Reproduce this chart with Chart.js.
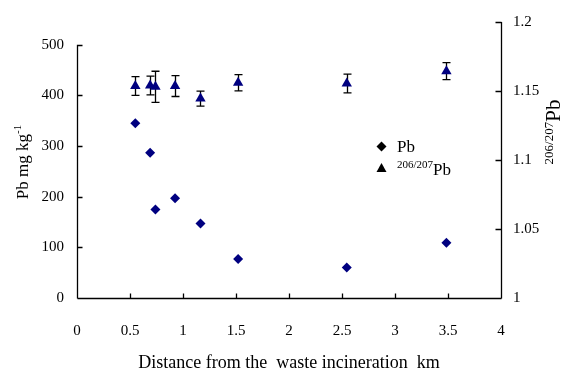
<!DOCTYPE html>
<html>
<head>
<meta charset="utf-8">
<script src="https://cdn.jsdelivr.net/npm/chart.js@4"></script>
<style>
  html, body { margin: 0; padding: 0; background: #fff; }
  #wrap { width: 564px; height: 374px; }
</style>
</head>
<body>
<div id="wrap"><canvas id="canvas"></canvas></div>
<script>
// distance from the waste incineration (km)
var distances = [0.55, 0.69, 0.74, 0.925, 1.165, 1.52, 2.545, 3.485];
// Pb content, mg/kg (left axis)
var pbValues = [345, 287, 175, 197, 147, 77, 60, 109];
// 206/207Pb ratio (right axis) and its error
var ratioValues = [1.1536, 1.1540, 1.1530, 1.1536, 1.1445, 1.1560, 1.1555, 1.1644];
var ratioErrors = [0.0068, 0.0068, 0.0113, 0.0076, 0.0054, 0.0059, 0.0068, 0.0062];
var xTicks = [0, 0.5, 1, 1.5, 2, 2.5, 3, 3.5, 4];
var leftTicks = [0, 100, 200, 300, 400, 500];
var rightTicks = [1, 1.05, 1.1, 1.15, 1.2];

var navy = '#000080';
var serif = '"Liberation Serif", "Times New Roman", serif';

function pairs(xs, ys) {
  var out = [];
  for (var i = 0; i < xs.length; i++) out.push({x: xs[i], y: ys[i]});
  return out;
}

function plainLabel(v) {
  return String(Math.round(v * 100) / 100);
}

// error bars, inward ticks, titles and legend
var decorations = {
  id: 'decorations',
  beforeDatasetsDraw: function(chart) {
    var ctx = chart.ctx;
    var xs = chart.scales.x, yr = chart.scales.yRight;
    ctx.save();
    ctx.strokeStyle = '#000';
    ctx.lineWidth = 1.3;
    for (var i = 0; i < distances.length; i++) {
      var px = Math.round(xs.getPixelForValue(distances[i])) + 0.5;
      var top = yr.getPixelForValue(ratioValues[i] + ratioErrors[i]);
      var bot = yr.getPixelForValue(ratioValues[i] - ratioErrors[i]);
      ctx.beginPath();
      ctx.moveTo(px, top); ctx.lineTo(px, bot);
      ctx.moveTo(px - 4, top); ctx.lineTo(px + 4, top);
      ctx.moveTo(px - 4, bot); ctx.lineTo(px + 4, bot);
      ctx.stroke();
    }
    ctx.restore();
  },
  afterDraw: function(chart) {
    var ctx = chart.ctx;
    var xs = chart.scales.x, yl = chart.scales.yLeft, yr = chart.scales.yRight;
    var a = chart.chartArea;
    ctx.save();
    ctx.strokeStyle = '#000';
    ctx.lineWidth = 1.3;
    ctx.beginPath();
    // axis lines
    var lx = Math.round(a.left) + 0.5, rx = Math.round(a.right) + 0.5, by = Math.round(a.bottom) + 0.5;
    ctx.moveTo(lx, yl.getPixelForValue(500)); ctx.lineTo(lx, by);
    ctx.moveTo(lx, by); ctx.lineTo(rx, by);
    ctx.moveTo(rx, a.top); ctx.lineTo(rx, by);
    // inward ticks
    xTicks.forEach(function(v) {
      var p = Math.round(xs.getPixelForValue(v)) + 0.5;
      ctx.moveTo(p, by); ctx.lineTo(p, by - 5);
    });
    leftTicks.forEach(function(v) {
      var p = Math.round(yl.getPixelForValue(v)) + 0.5;
      ctx.moveTo(lx, p); ctx.lineTo(lx + 5, p);
    });
    rightTicks.forEach(function(v) {
      var p = Math.round(yr.getPixelForValue(v)) + 0.5;
      ctx.moveTo(rx, p); ctx.lineTo(rx - 6, p);
    });
    ctx.stroke();

    ctx.fillStyle = '#000';
    ctx.textBaseline = 'alphabetic';

    // x title
    ctx.font = '18px ' + serif;
    ctx.textAlign = 'center';
    ctx.fillText('Distance from the  waste incineration  km', (a.left + a.right) / 2, 368);

    // left title: Pb mg kg-1
    ctx.save();
    ctx.translate(28, 162);
    ctx.rotate(-Math.PI / 2);
    ctx.textAlign = 'left';
    ctx.font = '17px ' + serif;
    var t1 = 'Pb mg kg';
    var w1 = ctx.measureText(t1).width;
    ctx.font = '11px ' + serif;
    var w2 = ctx.measureText('-1').width;
    var sx = -(w1 + w2) / 2;
    ctx.font = '17px ' + serif;
    ctx.fillText(t1, sx, 0);
    ctx.font = '11px ' + serif;
    ctx.fillText('-1', sx + w1, -7);
    ctx.restore();

    // right title: 206/207Pb
    ctx.save();
    ctx.translate(560, 132);
    ctx.rotate(-Math.PI / 2);
    ctx.textAlign = 'left';
    ctx.font = '13px ' + serif;
    var s1 = ctx.measureText('206/207').width;
    ctx.font = '21px ' + serif;
    var s2 = ctx.measureText('Pb').width;
    var rs = -(s1 + s2) / 2;
    ctx.font = '13px ' + serif;
    ctx.fillText('206/207', rs, -7);
    ctx.font = '21px ' + serif;
    ctx.fillText('Pb', rs + s1, 0);
    ctx.restore();

    // legend
    ctx.fillStyle = '#000';
    ctx.beginPath();
    ctx.moveTo(381.5, 141.5); ctx.lineTo(386.5, 146.5); ctx.lineTo(381.5, 151.5); ctx.lineTo(376.5, 146.5);
    ctx.closePath(); ctx.fill();
    ctx.beginPath();
    ctx.moveTo(381.5, 163); ctx.lineTo(386.5, 172); ctx.lineTo(376.5, 172);
    ctx.closePath(); ctx.fill();
    ctx.textAlign = 'left';
    ctx.font = '17px ' + serif;
    ctx.fillText('Pb', 397, 152);
    ctx.font = '11px ' + serif;
    ctx.fillText('206/207', 397, 168);
    var lw = ctx.measureText('206/207').width;
    ctx.font = '17px ' + serif;
    ctx.fillText('Pb', 397 + lw, 175);
    ctx.restore();
  }
};

new Chart(document.getElementById('canvas').getContext('2d'), {
  type: 'scatter',
  data: {
    datasets: [{
      label: 'Pb',
      data: pairs(distances, pbValues),
      yAxisID: 'yLeft',
      pointStyle: 'rectRot',
      pointRadius: 5,
      backgroundColor: navy,
      borderColor: navy,
      borderWidth: 0
    }, {
      label: '206/207Pb',
      data: pairs(distances, ratioValues),
      yAxisID: 'yRight',
      pointStyle: 'triangle',
      pointRadius: 6,
      backgroundColor: navy,
      borderColor: navy,
      borderWidth: 0
    }]
  },
  options: {
    responsive: true,
    maintainAspectRatio: false,
    animation: false,
    layout: { padding: { top: 19, left: 0, right: 0, bottom: 0 } },
    plugins: {
      legend: { display: false },
      tooltip: { enabled: false }
    },
    scales: {
      x: {
        type: 'linear',
        min: 0, max: 4,
        afterBuildTicks: function(s) { s.ticks = xTicks.map(function(v) { return {value: v}; }); },
        afterFit: function(s) { s.height = 76; },
        grid: { display: false, drawTicks: false },
        border: { display: false },
        ticks: {
          padding: 24,
          color: '#000',
          font: { family: serif, size: 15 },
          maxRotation: 0,
          callback: plainLabel
        }
      },
      yLeft: {
        position: 'left',
        min: 0, max: 545,
        afterBuildTicks: function(s) { s.ticks = leftTicks.map(function(v) { return {value: v}; }); },
        afterFit: function(s) { s.width = 77; },
        grid: { display: false, drawTicks: false },
        border: { display: false },
        ticks: { padding: 13, color: '#000', font: { family: serif, size: 15 }, callback: plainLabel }
      },
      yRight: {
        position: 'right',
        min: 1, max: 1.2,
        afterBuildTicks: function(s) { s.ticks = rightTicks.map(function(v) { return {value: v}; }); },
        afterFit: function(s) { s.width = 63; },
        grid: { display: false, drawTicks: false },
        border: { display: false },
        ticks: { padding: 12, color: '#000', font: { family: serif, size: 15 }, callback: plainLabel }
      }
    }
  },
  plugins: [decorations]
});
</script>
</body>
</html>
